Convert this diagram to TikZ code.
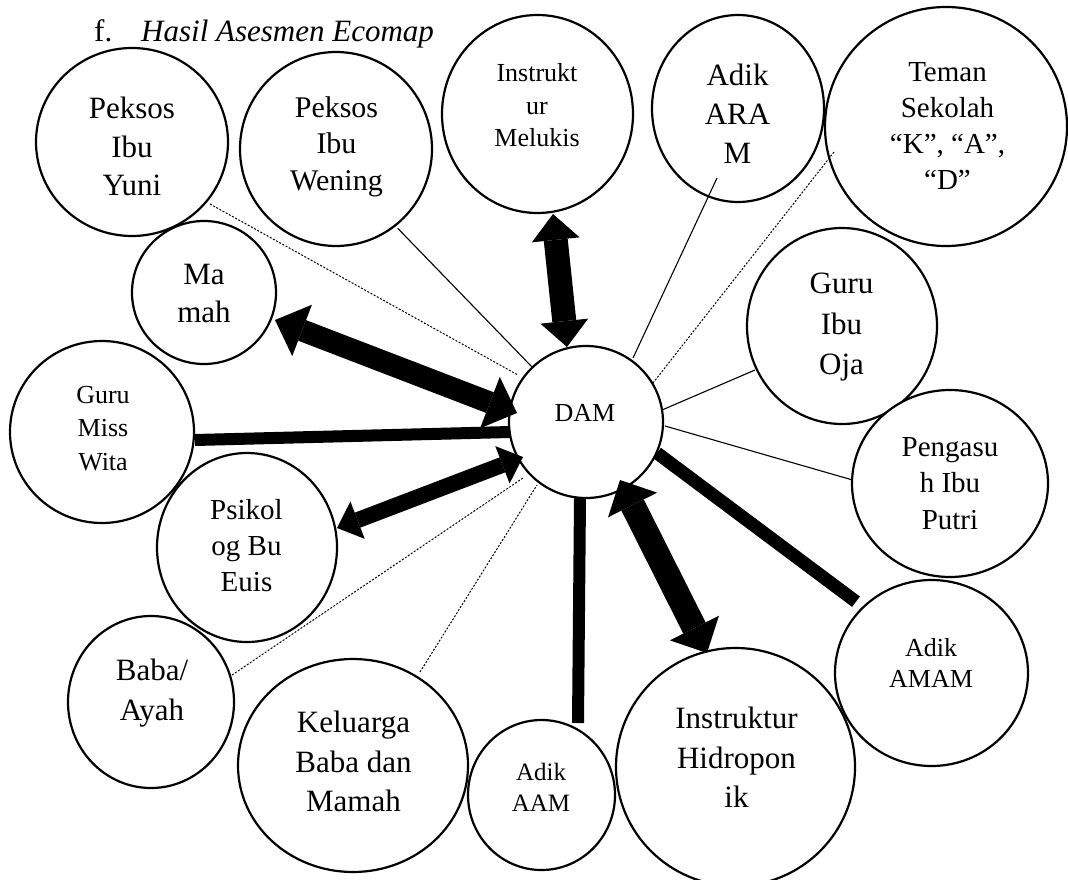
\documentclass[tikz,border=0pt]{standalone}
\usepackage{fontspec}
\setmainfont{Liberation Serif}
\usetikzlibrary{shapes.geometric,arrows.meta,calc}
\newcommand\myfs[2]{\fontsize{#1}{#2}\selectfont}
\begin{document}
\begin{tikzpicture}[x=1pt,y=-1pt,
  circ/.style={ellipse, draw, line width=2.2pt, inner sep=0pt, fill=white},
  txt/.style={align=center, inner sep=0pt},
  slim/.style={line width=1.1pt},
  dotline/.style={line width=1pt, dash pattern=on 2pt off 1.6pt},
  heavy/.style={line width=12pt, line cap=butt},
  bigarr/.style n args={3}{line width=#1, line cap=butt,
    arrows={Triangle[width=#2,length=#3,line width=0pt]-Triangle[width=#2,length=#3,line width=0pt]}}
]
\useasboundingbox (0,0) rectangle (1068,880);
\fill[white] (0,0) rectangle (1068,880);

% title
\node[anchor=base west, inner sep=0pt, font=\myfs{31}{38}] (tf) at (94,41.7) {f.};
\node[anchor=base west, inner sep=0pt, font=\myfs{31}{38}\itshape] (tt) at (141,41.7) {Hasil Asesmen Ecomap};

% circles
\node[circ, minimum width=192pt, minimum height=188pt] (yuni) at (132,142) {};
\node[circ, minimum width=192pt, minimum height=194pt] (wening) at (336,149) {};
\node[circ, minimum width=191pt, minimum height=198pt] (melukis) at (537.5,114) {};
\node[circ, minimum width=172pt, minimum height=187pt] (aram) at (738,108.5) {};
\node[circ, minimum width=242pt, minimum height=239pt] (teman) at (946,126.5) {};
\node[circ, minimum width=144pt, minimum height=143pt] (mamah) at (204,292.5) {};
\node[circ, minimum width=190pt, minimum height=196pt] (oja) at (842,326) {};
\node[circ, minimum width=184pt, minimum height=182pt] (wita) at (102,432) {};
\node[circ, minimum width=154pt, minimum height=152pt] (dam) at (586,422) {};
\node[circ, minimum width=196pt, minimum height=187pt] (pengasuh) at (950,483.5) {};
\node[circ, minimum width=180pt, minimum height=189pt] (psikolog) at (247,547.5) {};
\node[circ, minimum width=166pt, minimum height=172pt] (baba) at (151,702) {};
\node[circ, minimum width=230pt, minimum height=213pt] (keluarga) at (353,765.5) {};
\node[circ, minimum width=147pt, minimum height=150pt] (aam) at (541.5,795) {};
\node[circ, minimum width=239pt, minimum height=238pt] (hidro) at (735.5,767) {};
\node[circ, minimum width=193pt, minimum height=186pt] (amam) at (931.5,673) {};

% texts
\node[txt, font=\myfs{31}{38.5}] (yuniT) at (132,146.5) {Peksos\\Ibu\\Yuni};
\node[txt, font=\myfs{30}{36.5}] (weningT) at (336.5,146.5) {Peksos\\Ibu\\Wening};
\node[txt, font=\myfs{26}{32.5}] (melukisT) at (537,105.5) {Instrukt\\ur\\Melukis};
\node[txt, font=\myfs{31}{39}] (aramT) at (737.5,114) {Adik\\ARA\\M};
\node[txt, font=\myfs{29}{36}] (temanT) at (947.5,126) {Teman\\Sekolah\\“K”, “A”,\\“D”};
\node[txt, font=\myfs{31}{38}] (mamahT) at (204,294) {Ma\\mah};
\node[txt, font=\myfs{31}{40.5}] (ojaT) at (841.5,327.5) {Guru\\Ibu\\Oja};
\node[txt, font=\myfs{26}{33.5}] (witaT) at (103,428.5) {Guru\\Miss\\Wita};
\node[txt, font=\myfs{26}{31}] (damT) at (585,413) {DAM};
\node[txt, font=\myfs{29}{36.5}] (pengasuhT) at (950,483.5) {Pengasu\\h Ibu\\Putri};
\node[txt, font=\myfs{29}{36}] (psikologT) at (246.5,546) {Psikol\\og Bu\\Euis};
\node[txt, font=\myfs{31}{40}] (babaT) at (152,693) {Baba/\\Ayah};
\node[txt, font=\myfs{31}{39.5}] (keluargaT) at (353.5,761.5) {Keluarga\\Baba dan\\Mamah};
\node[txt, font=\myfs{25}{31}] (aamT) at (541,787.5) {Adik\\AAM};
\node[txt, font=\myfs{31}{39.5}] (hidroT) at (736.5,757.5) {Instruktur\\Hidropon\\ik};
\node[txt, font=\myfs{26}{31}] (amamT) at (931,662.5) {Adik\\AMAM};

% connectors
\draw[dotline] ($(yuni)+(78,62)$) -- ($(dam)+(-68,-47)$);
\draw[slim] ($(wening)+(61.7,79.3)$) -- ($(dam)+(-53,-54)$);
\draw[bigarr={24pt}{48pt}{26pt}] ($(melukis)+(15.5,100)$) -- ($(dam)+(-19,-75)$);
\draw[slim] ($(aram)+(-21,69.5)$) -- ($(dam)+(47,-64)$);
\draw[dotline] ($(teman)+(-112,25.5)$) -- ($(dam)+(67,-39)$);
\draw[slim] ($(oja)+(-87,44)$) -- ($(dam)+(76,-12)$);
\draw[slim] ($(pengasuh)+(-97.4,-3.5)$) -- ($(dam)+(79,4)$);
\draw[heavy, line width=13pt] ($(amam)+(-75.5,-71.3)$) -- ($(dam)+(71,31)$);
\draw[bigarr={25pt}{55pt}{28pt}] ($(hidro)+(-28.5,-114)$) -- ($(dam)+(34,58)$);
\draw[heavy] ($(aam)+(36.5,-72)$) -- ($(dam)+(-6,76)$);
\draw[dotline] ($(keluarga)+(67,-93.5)$) -- ($(dam)+(-49,63)$);
\draw[dotline] ($(baba)+(81,-27)$) -- ($(dam)+(-63,56)$);
\draw[bigarr={16pt}{40pt}{22pt}] ($(psikolog)+(90,-19.5)$) -- ($(dam)+(-63,35)$);
\draw[heavy] ($(wita)+(93,8)$) -- ($(dam)+(-76,10)$);
\draw[bigarr={22pt}{55pt}{29pt}] ($(mamah)+(71,27.5)$) -- ($(dam)+(-69,-9)$);
\end{tikzpicture}
\end{document}
